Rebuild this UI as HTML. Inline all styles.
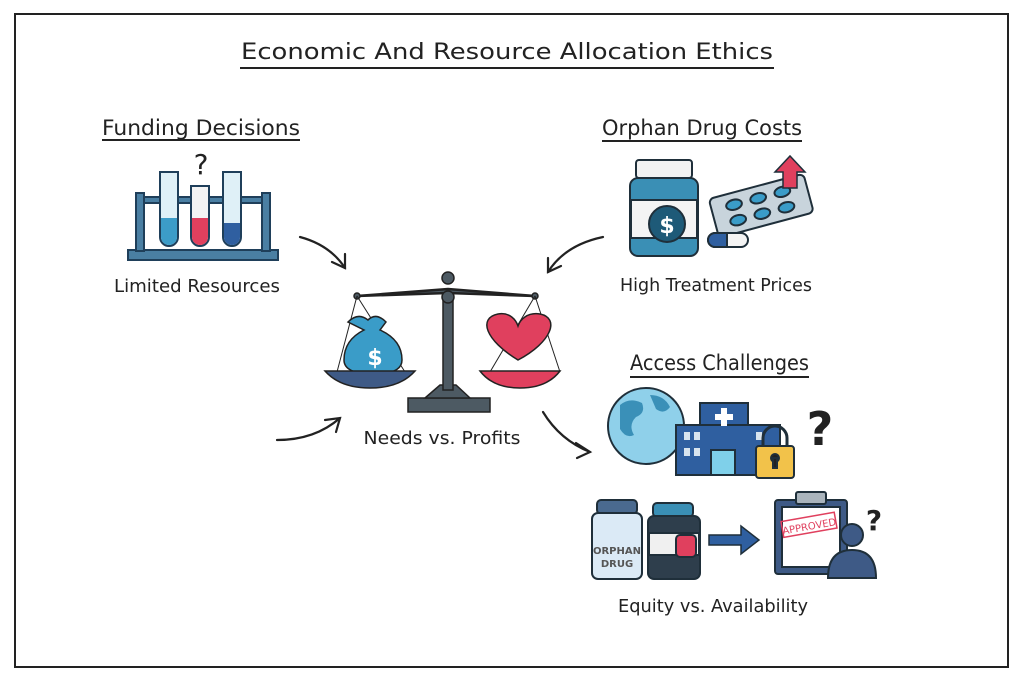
<!DOCTYPE html>
<html><head><meta charset="utf-8"><style>
html,body{margin:0;padding:0;background:#fff}
svg{display:block}
text{font-family:"DejaVu Sans","Liberation Sans",sans-serif;fill:#222}
</style></head><body>
<svg width="1024" height="683" viewBox="0 0 1024 683" xmlns="http://www.w3.org/2000/svg">
<rect x="15" y="14" width="993" height="653" fill="#fff" stroke="#222" stroke-width="2"/>
<text x="507" y="59" font-size="22" text-anchor="middle" textLength="532" lengthAdjust="spacingAndGlyphs">Economic And Resource Allocation Ethics</text>
<line x1="240" y1="68" x2="774" y2="68" stroke="#222" stroke-width="2"/>

<text x="102" y="135" font-size="21" textLength="198" lengthAdjust="spacingAndGlyphs">Funding Decisions</text>
<line x1="102" y1="140" x2="300" y2="140" stroke="#222" stroke-width="2"/>
<g stroke="#1f3f5a" stroke-width="2">
<rect x="128" y="250" width="150" height="10" fill="#4a7fa3"/>
<rect x="136" y="193" width="8" height="58" fill="#4a7fa3"/>
<rect x="262" y="193" width="8" height="58" fill="#4a7fa3"/>
<rect x="144" y="197" width="118" height="6" fill="#4a7fa3"/>
<path d="M160 172 V237 a9 9 0 0 0 18 0 V172 Z" fill="#dff0f7"/>
<path d="M161 218 V237 a8 8 0 0 0 16 0 V218 Z" fill="#3c9cc8" stroke="none"/>
<path d="M191 186 V237 a9 9 0 0 0 18 0 V186 Z" fill="#f4f4f4"/>
<path d="M192 218 V237 a8 8 0 0 0 16 0 V218 Z" fill="#e0405e" stroke="none"/>
<path d="M223 172 V237 a9 9 0 0 0 18 0 V172 Z" fill="#dff0f7"/>
<path d="M224 223 V237 a8 8 0 0 0 16 0 V223 Z" fill="#2f5fa0" stroke="none"/>
</g>
<text x="201" y="174" font-size="28" text-anchor="middle">?</text>
<text x="197" y="292" font-size="18" text-anchor="middle" textLength="166" lengthAdjust="spacingAndGlyphs">Limited Resources</text>

<g stroke="#222" stroke-width="2.2" fill="none" stroke-linecap="round">
<path d="M300 237 Q330 245 345 268"/><path d="M332 262 L345 268 L345 254"/>
<path d="M603 237 Q565 245 548 272"/><path d="M548 258 L548 272 L561 266"/>
<path d="M277 440 Q315 440 340 418"/><path d="M325 420 L340 418 L336 432"/>
<path d="M543 412 Q560 440 590 452"/><path d="M576 443 L590 452 L577 458"/>
</g>

<g stroke="#222" stroke-width="1.5">
<rect x="408" y="398" width="82" height="14" fill="#4d5a63"/>
<path d="M425 398 L440 385 L456 385 L470 398Z" fill="#4d5a63"/>
<rect x="443" y="290" width="10" height="100" fill="#4d5a63"/>
<path d="M357 296 L448 289 L535 296 L448 293Z" fill="#4d5a63" stroke-width="2.5"/>
<circle cx="448" cy="278" r="6" fill="#4d5a63"/>
<circle cx="448" cy="297" r="6" fill="#4d5a63"/>
<circle cx="357" cy="296" r="3" fill="#4d5a63"/><circle cx="535" cy="296" r="3" fill="#4d5a63"/>
<line x1="357" y1="296" x2="337" y2="372" stroke-width="1"/><line x1="357" y1="296" x2="405" y2="372" stroke-width="1"/>
<line x1="535" y1="296" x2="490" y2="372" stroke-width="1"/><line x1="535" y1="296" x2="560" y2="372" stroke-width="1"/>
<path d="M348 322 q10 -10 20 -2 q8 -8 18 2 l-6 8 q22 10 22 30 q0 14 -28 14 q-30 0 -30 -14 q0 -20 20 -30Z" fill="#3a9cc8"/>
<path d="M325 371 L415 371 Q400 388 370 388 Q340 388 325 371Z" fill="#3e5a86"/>
<path d="M518 360 C485 340 478 318 498 314 C510 312 516 320 518 326 C520 320 527 312 540 314 C560 318 552 342 518 360Z" fill="#e0405e"/>
<path d="M480 371 L560 371 Q547 388 520 388 Q493 388 480 371Z" fill="#e0405e"/>
</g>
<text x="375" y="365" font-size="22" font-weight="bold" text-anchor="middle" style="fill:#fff">$</text>
<text x="442" y="444" font-size="18" text-anchor="middle" textLength="157" lengthAdjust="spacingAndGlyphs">Needs vs. Profits</text>

<text x="602" y="135" font-size="21" textLength="200" lengthAdjust="spacingAndGlyphs">Orphan Drug Costs</text>
<line x1="602" y1="141" x2="802" y2="141" stroke="#222" stroke-width="2"/>
<g stroke="#1f2f3a" stroke-width="2">
<rect x="636" y="160" width="56" height="18" rx="3" fill="#f2f2f2"/>
<rect x="630" y="178" width="68" height="78" rx="8" fill="#3a8fb5"/>
<rect x="631" y="200" width="66" height="38" fill="#f4f4f4"/>
<circle cx="667" cy="224" r="18" fill="#1e5a78"/>
<g transform="rotate(-15 760 205)"><rect x="712" y="186" width="98" height="40" rx="5" fill="#c8d4dc"/>
<ellipse cx="735" cy="198" rx="8" ry="5" fill="#3a9cc8"/><ellipse cx="760" cy="198" rx="8" ry="5" fill="#3a9cc8"/><ellipse cx="785" cy="198" rx="8" ry="5" fill="#3a9cc8"/>
<ellipse cx="735" cy="214" rx="8" ry="5" fill="#3a9cc8"/><ellipse cx="760" cy="214" rx="8" ry="5" fill="#3a9cc8"/><ellipse cx="785" cy="214" rx="8" ry="5" fill="#3a9cc8"/></g>
<rect x="708" y="233" width="40" height="14" rx="7" fill="#f4f4f4"/>
<path d="M715 233 h12 v14 h-12 a7 7 0 0 1 0 -14Z" fill="#2f5fa0"/>
<path d="M783 188 V172 H775 L790 156 L805 172 H797 V188Z" fill="#e0405e" stroke-width="1.5"/>
</g>
<text x="667" y="233" font-size="22" font-weight="bold" text-anchor="middle" style="fill:#fff">$</text>
<text x="716" y="291" font-size="18" text-anchor="middle" textLength="192" lengthAdjust="spacingAndGlyphs">High Treatment Prices</text>

<text x="630" y="370" font-size="21" textLength="179" lengthAdjust="spacingAndGlyphs">Access Challenges</text>
<line x1="630" y1="377" x2="809" y2="377" stroke="#222" stroke-width="2"/>
<g stroke="#1f2f3a" stroke-width="2">
<circle cx="646" cy="426" r="38" fill="#8fd0ea"/>
<path d="M620 405 q10 -8 22 -2 q4 10 -6 14 q-8 8 -2 18 q-8 4 -14 -6Z M650 395 q14 0 20 12 q-6 8 -14 2Z" fill="#3a90b8" stroke="none"/>
<rect x="700" y="403" width="48" height="72" fill="#2f5fa0"/>
<rect x="676" y="425" width="104" height="50" fill="#2f5fa0"/>
<rect x="711" y="450" width="24" height="25" fill="#7fd0ea"/>
<path d="M721 408 h6 v6 h6 v6 h-6 v6 h-6 v-6 h-6 v-6 h6Z" fill="#fff" stroke="none"/>
<g fill="#d8e4ee" stroke="none"><rect x="684" y="432" width="6" height="8"/><rect x="694" y="432" width="6" height="8"/><rect x="684" y="448" width="6" height="8"/><rect x="694" y="448" width="6" height="8"/><rect x="756" y="432" width="6" height="8"/></g>
<path d="M763 446 v-8 a12 12 0 0 1 24 0 v8" fill="none" stroke-width="3"/>
<rect x="756" y="446" width="38" height="32" rx="3" fill="#f2c24a"/>
<circle cx="775" cy="458" r="4" fill="#222"/><rect x="773" y="458" width="4" height="10" fill="#222"/>
</g>
<text x="820" y="445" font-size="46" font-weight="bold" text-anchor="middle">?</text>

<g stroke="#1f2f3a" stroke-width="2">
<rect x="597" y="500" width="40" height="14" rx="4" fill="#4a6a8f"/>
<rect x="592" y="513" width="50" height="66" rx="6" fill="#dbeaf6"/>
<rect x="653" y="503" width="40" height="14" rx="4" fill="#3a8fb5"/>
<rect x="648" y="516" width="52" height="63" rx="6" fill="#2e3e4c"/>
<rect x="649" y="533" width="50" height="22" fill="#f0f0f0"/>
<rect x="676" y="535" width="20" height="22" rx="4" fill="#e0405e"/>
<path d="M709 535 h32 v-9 l18 14 l-18 14 v-9 h-32Z" fill="#2f5fa0" stroke-width="1.5"/>
<rect x="775" y="500" width="72" height="74" rx="3" fill="#3e5a86"/>
<rect x="782" y="507" width="58" height="60" fill="#fff"/>
<rect x="796" y="492" width="30" height="12" rx="2" fill="#aab4bc"/>
<circle cx="852" cy="535" r="11" fill="#3e5a86"/>
<path d="M828 578 q0 -28 24 -28 q24 0 24 28Z" fill="#3e5a86"/>
</g>
<g transform="rotate(-10 808 525)"><rect x="782" y="517" width="54" height="16" fill="none" stroke="#e0405e" stroke-width="1.5"/>
<text x="809" y="530" font-size="10" text-anchor="middle" style="fill:#e0405e">APPROVED</text></g>
<text x="617" y="554" font-size="10" font-weight="bold" text-anchor="middle" style="fill:#555">ORPHAN</text>
<text x="617" y="567" font-size="10" font-weight="bold" text-anchor="middle" style="fill:#555">DRUG</text>
<text x="874" y="530" font-size="28" font-weight="bold" text-anchor="middle">?</text>
<text x="713" y="612" font-size="18" text-anchor="middle" textLength="190" lengthAdjust="spacingAndGlyphs">Equity vs. Availability</text>
</svg>
</body></html>
